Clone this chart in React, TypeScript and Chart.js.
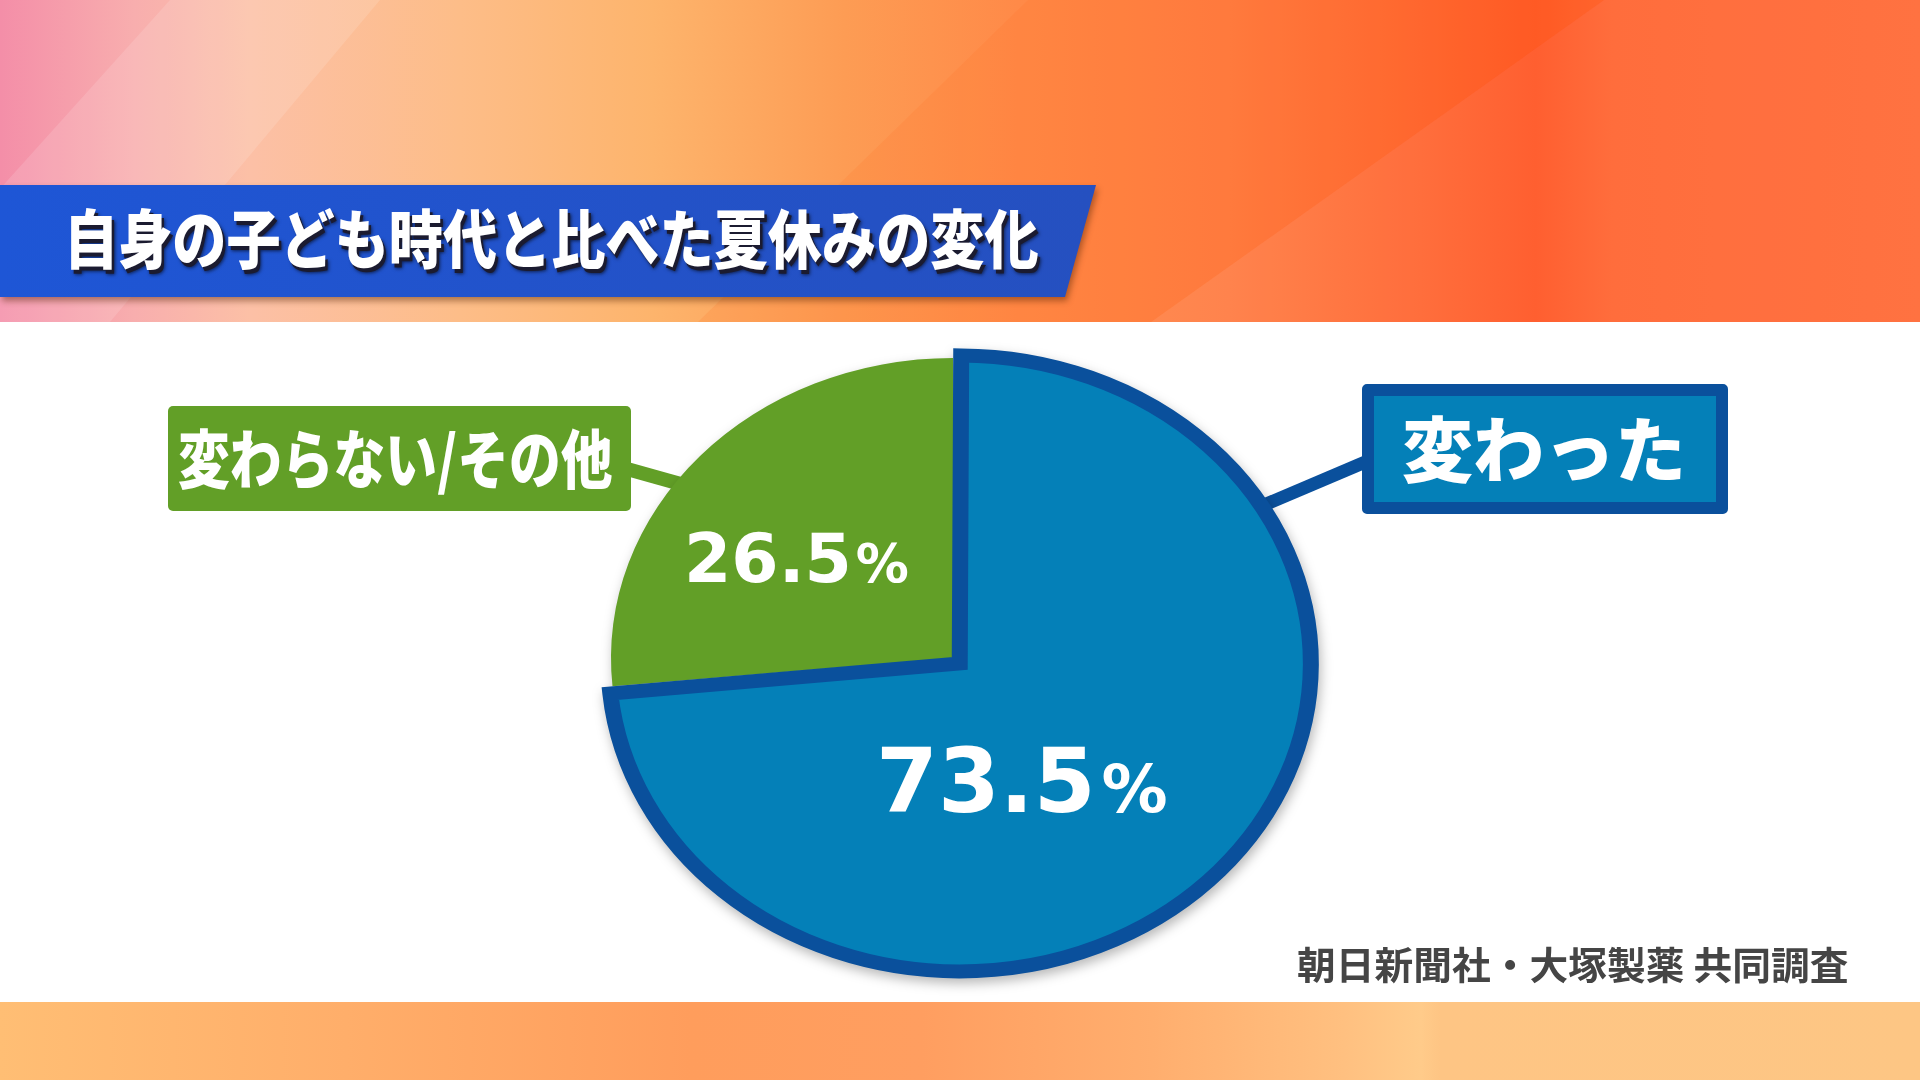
import { useEffect, useRef } from "react"
import { Chart, registerables } from "chart.js"

Chart.register(...registerables)

// Data
const categories = ["変わらない/その他", "変わった"]
const values = [26.5, 73.5]
const sliceColors = ["#629f27", "#0480b8"]
const sliceBorders = ["#629f27", "#0a509c"]
const title = "自身の子ども時代と比べた夏休みの変化"
const source = "朝日新聞社・大塚製薬 共同調査"

// pie is drawn as an ellipse: horizontal stretch around the centre
const STRETCH = 1.14
const CX = 953
const CY = 658
const CW = 840
const CH = 720

const ellipsePlugin = {
  id: "ellipse",
  beforeDatasetsDraw(chart: any) {
    const arc = chart.getDatasetMeta(0).data[0]
    const ctx = chart.ctx
    ctx.save()
    ctx.translate(arc.x, arc.y)
    ctx.scale(STRETCH, 1)
    ctx.translate(-arc.x, -arc.y)
  },
  afterDatasetsDraw(chart: any) {
    chart.ctx.restore()
  },
}

const jp = '"Noto Sans CJK JP", "Noto Sans", sans-serif'
const num = '"DejaVu Sans", "Liberation Sans", sans-serif'

function PieChart() {
  const chartRef = useRef<HTMLCanvasElement>(null)
  const chartInstance = useRef<Chart | null>(null)

  useEffect(() => {
    if (!chartRef.current) return
    if (chartInstance.current) chartInstance.current.destroy()
    const ctx = chartRef.current.getContext("2d")
    if (!ctx) return

    const total = values.reduce((a, b) => a + b, 0)

    chartInstance.current = new Chart(ctx, {
      type: "pie",
      data: {
        labels: categories,
        datasets: [
          {
            data: values,
            backgroundColor: sliceColors,
            borderColor: sliceBorders,
            borderWidth: [0, 14],
            borderJoinStyle: "miter",
            offset: [0, 32],
            radius: 300,
            rotation: -(values[0] / total) * 360,
            clip: false,
          } as any,
        ],
      },
      options: {
        responsive: false,
        animation: false,
        events: [],
        layout: { padding: 0 },
        plugins: {
          legend: { display: false },
          tooltip: { enabled: false },
        },
      },
      plugins: [ellipsePlugin],
    })

    return () => {
      if (chartInstance.current) {
        chartInstance.current.destroy()
        chartInstance.current = null
      }
    }
  }, [])

  return (
    <canvas
      ref={chartRef}
      width={CW}
      height={CH}
      style={{
        position: "absolute",
        left: CX - CW / 2,
        top: CY - CH / 2,
        width: CW,
        height: CH,
        filter: "drop-shadow(2px 5px 6px rgba(0,0,0,0.28))",
      }}
    ></canvas>
  )
}

export default function App() {
  return (
    <div
      style={{
        position: "fixed",
        left: 0,
        top: 0,
        width: 1920,
        height: 1080,
        overflow: "hidden",
        background: "#ffffff",
        fontFamily: jp,
      }}
    >
      {/* top banner */}
      <div
        style={{
          position: "absolute",
          left: 0,
          top: 0,
          width: 1920,
          height: 322,
          background:
            "linear-gradient(90deg, #f48ea8 0%, #f8aeae 7%, #fcc0a6 13%, #fdbd88 24%, #fdb46c 34%, #fd9c54 44%, #ff8a48 53%, #ff7c42 64%, #ff6530 74%, #ff5624 80%, #ff6430 84%, #ff6a36 100%)",
        }}
      />
      <div
        style={{
          position: "absolute",
          left: 0,
          top: 0,
          width: 1920,
          height: 322,
          background: "rgba(255,255,255,0.13)",
          clipPath: "polygon(170px 0, 380px 0, 110px 322px, -120px 322px)",
        }}
      />
      <div
        style={{
          position: "absolute",
          left: 0,
          top: 0,
          width: 1920,
          height: 322,
          background: "rgba(255,110,40,0.16)",
          clipPath: "polygon(1028px 0, 1604px 0, 1151px 322px, 698px 322px)",
        }}
      />
      <div
        style={{
          position: "absolute",
          left: 0,
          top: 0,
          width: 1920,
          height: 322,
          background: "rgba(255,255,255,0.06)",
          clipPath: "polygon(1604px 0, 1920px 0, 1920px 322px, 1151px 322px)",
        }}
      />

      {/* title bar */}
      <div
        style={{
          position: "absolute",
          left: 0,
          top: 185,
          width: 1100,
          height: 116,
          filter: "drop-shadow(2px 4px 3px rgba(80,30,0,0.45))",
        }}
      >
        <div
          style={{
            position: "absolute",
            left: 0,
            top: 0,
            width: 1096,
            height: 112,
            background: "linear-gradient(90deg, #1e56d6 0%, #2352c8 60%, #2550c0 100%)",
            clipPath: "polygon(0 0, 1096px 0, 1065px 112px, 0 112px)",
          }}
        />
      </div>
      <div
        style={{
          position: "absolute",
          left: 64,
          top: 203,
          fontSize: 64,
          lineHeight: 1,
          fontWeight: 900,
          color: "#ffffff",
          whiteSpace: "nowrap",
          transform: "scaleX(0.846)",
          transformOrigin: "left top",
          textShadow: "3px 4px 0 #1b1b30, 4px 5px 4px rgba(0,0,0,0.6)",
        }}
      >
        {title}
      </div>

      {/* connector lines */}
      <svg
        width={1920}
        height={1080}
        style={{ position: "absolute", left: 0, top: 0 }}
      >
        <line x1={620} y1={467} x2={702} y2={490} stroke={sliceColors[0]} strokeWidth={14} />
        <line x1={1250} y1={511} x2={1370} y2={460} stroke={sliceBorders[1]} strokeWidth={13} />
      </svg>

      <PieChart />

      {/* category labels */}
      <div
        style={{
          position: "absolute",
          left: 168,
          top: 406,
          width: 463,
          height: 105,
          background: sliceColors[0],
          borderRadius: 5,
        }}
      />
      <div
        style={{
          position: "absolute",
          left: 178,
          top: 423,
          fontSize: 64,
          lineHeight: 1,
          fontWeight: 900,
          color: "#ffffff",
          whiteSpace: "nowrap",
          transform: "scaleX(0.81)",
          transformOrigin: "left top",
        }}
      >
        {categories[0]}
      </div>

      <div
        style={{
          position: "absolute",
          left: 1362,
          top: 384,
          width: 366,
          height: 130,
          boxSizing: "border-box",
          background: sliceColors[1],
          border: `12px solid ${sliceBorders[1]}`,
          borderRadius: 5,
        }}
      />
      <div
        style={{
          position: "absolute",
          left: 1402,
          top: 410,
          fontSize: 71,
          lineHeight: 1,
          fontWeight: 900,
          color: "#ffffff",
          whiteSpace: "nowrap",
        }}
      >
        {categories[1]}
      </div>

      {/* values */}
      <div
        style={{
          position: "absolute",
          left: 684,
          top: 525,
          fontFamily: num,
          fontWeight: 700,
          fontSize: 68,
          lineHeight: 1,
          color: "#ffffff",
          whiteSpace: "nowrap",
        }}
      >
        {values[0].toFixed(1)}
        <span style={{ fontSize: 53, marginLeft: 4 }}>%</span>
      </div>
      <div
        style={{
          position: "absolute",
          left: 876,
          top: 737,
          fontFamily: num,
          fontWeight: 700,
          fontSize: 89,
          lineHeight: 1,
          color: "#ffffff",
          whiteSpace: "nowrap",
        }}
      >
        {values[1].toFixed(1)}
        <span style={{ fontSize: 66, marginLeft: 6 }}>%</span>
      </div>

      {/* source */}
      <div
        style={{
          position: "absolute",
          left: 1297,
          top: 944,
          fontSize: 38,
          lineHeight: 1,
          fontWeight: 700,
          color: "#454545",
          whiteSpace: "nowrap",
          transform: "scaleX(1.02)",
          transformOrigin: "left top",
        }}
      >
        {source}
      </div>

      {/* bottom band */}
      <div
        style={{
          position: "absolute",
          left: 0,
          top: 1002,
          width: 1920,
          height: 78,
          background:
            "linear-gradient(90deg, #ffbe74 0%, #ffae6a 18%, #ff9d5c 36%, #ff9e60 48%, #ffae6e 60%, #ffc080 70%, #ffcb8a 74%, #fec584 75%, #fdc684 100%)",
        }}
      />
    </div>
  )
}
